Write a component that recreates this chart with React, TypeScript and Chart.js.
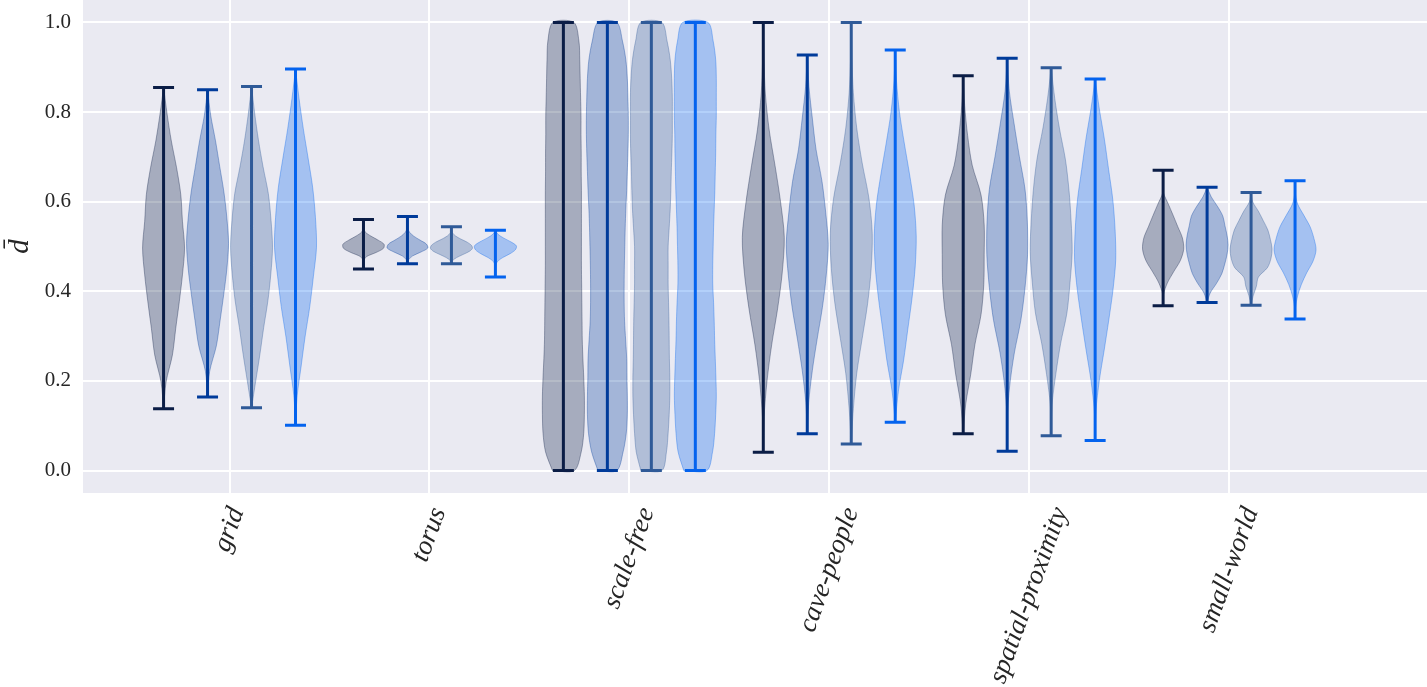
import React, { useEffect, useRef } from 'react';
import { Chart, registerables } from 'chart.js';

Chart.register(...registerables);

// ---------- data ----------
const categories = ['grid', 'torus', 'scale-free', 'cave-people', 'spatial-proximity', 'small-world'];
const seriesColors = ['#0b1d46', '#003b9a', '#2f5a98', '#0463ee'];
const yTickValues = [0, 0.2, 0.4, 0.6, 0.8, 1.0];

// extrema per category (series 1..4)
const minS1 = [0.138, 0.450, 0.0, 0.041, 0.082, 0.368];
const maxS1 = [0.855, 0.560, 1.0, 1.0, 0.881, 0.670];
const minS2 = [0.164, 0.4615, 0.0, 0.082, 0.043, 0.375];
const maxS2 = [0.850, 0.567, 1.0, 0.9275, 0.920, 0.632];
const minS3 = [0.140, 0.4615, 0.0, 0.0595, 0.078, 0.369];
const maxS3 = [0.857, 0.544, 1.0, 1.0, 0.899, 0.6205];
const minS4 = [0.101, 0.432, 0.0, 0.108, 0.067, 0.338];
const maxS4 = [0.896, 0.536, 1.0, 0.9387, 0.874, 0.6466];

// relative violin widths, sampled evenly from min (first) to max (last)
const densS1 = [
  [0, 0.12, 0.42, 0.58, 0.75, 0.9, 1, 0.9, 0.82, 0.62, 0.37, 0.17, 0],
  [0, 0, 0.01, 0.15, 0.6, 0.95, 0.98, 0.7, 0.35, 0.08, 0.01, 0, 0],
  [0.52, 0.85, 0.97, 1, 1, 0.97, 0.93, 0.9, 0.89, 0.88, 0.87, 0.86, 0.86, 0.86, 0.86, 0.86, 0.85, 0.85, 0.84, 0.84, 0.82, 0.8, 0.78, 0.74, 0.5],
  [0, 0.04, 0.18, 0.4, 0.68, 0.9, 1, 0.82, 0.56, 0.28, 0.1, 0.03, 0],
  [0, 0.12, 0.36, 0.56, 0.85, 0.98, 1, 1, 0.85, 0.43, 0.21, 0.07, 0],
  [0, 0.02, 0.2, 0.5, 0.82, 0.98, 0.92, 0.7, 0.48, 0.25, 0.02, 0, 0],
];
const densS2 = [
  [0, 0.1, 0.42, 0.6, 0.77, 0.92, 1, 0.92, 0.78, 0.58, 0.38, 0.15, 0],
  [0, 0.05, 0.25, 0.65, 0.97, 0.9, 0.6, 0.3, 0.1, 0.02, 0, 0, 0],
  [0.45, 0.75, 0.9, 0.95, 0.95, 0.93, 0.92, 0.87, 0.82, 0.8, 0.8, 0.81, 0.83, 0.85, 0.88, 0.92, 0.95, 0.98, 1, 1, 0.98, 0.95, 0.88, 0.72, 0.45],
  [0, 0.07, 0.24, 0.47, 0.72, 0.9, 1, 0.88, 0.7, 0.42, 0.24, 0.08, 0],
  [0, 0, 0.12, 0.34, 0.65, 0.85, 0.97, 0.96, 0.85, 0.58, 0.33, 0.1, 0],
  [0, 0.15, 0.45, 0.7, 0.84, 0.95, 1, 0.95, 0.85, 0.75, 0.5, 0.2, 0],
];
const densS3 = [
  [0, 0.2, 0.4, 0.58, 0.78, 0.92, 1, 0.93, 0.8, 0.55, 0.33, 0.15, 0],
  [0, 0.05, 0.25, 0.55, 0.85, 1, 0.95, 0.75, 0.45, 0.2, 0.05, 0, 0],
  [0.5, 0.72, 0.8, 0.85, 0.88, 0.88, 0.86, 0.85, 0.84, 0.82, 0.8, 0.8, 0.8, 0.85, 0.9, 0.93, 0.95, 0.98, 1, 1, 1, 0.97, 0.9, 0.75, 0.5],
  [0, 0.1, 0.26, 0.52, 0.78, 0.95, 1, 0.84, 0.52, 0.26, 0.1, 0.03, 0],
  [0, 0.04, 0.22, 0.45, 0.75, 0.9, 1, 0.95, 0.85, 0.68, 0.4, 0.17, 0],
  [0, 0.1, 0.25, 0.35, 0.78, 0.95, 1, 0.92, 0.8, 0.58, 0.35, 0.08, 0],
];
const densS4 = [
  [0, 0.08, 0.27, 0.46, 0.68, 0.85, 1, 0.95, 0.82, 0.6, 0.37, 0.17, 0],
  [0, 0, 0, 0.02, 0.1, 0.35, 0.7, 0.95, 1, 0.75, 0.4, 0.12, 0],
  [0.55, 0.82, 0.92, 0.97, 1, 0.98, 0.95, 0.92, 0.9, 0.87, 0.83, 0.83, 0.85, 0.87, 0.9, 0.93, 0.95, 0.97, 0.98, 1, 1, 1, 0.97, 0.85, 0.6],
  [0, 0.15, 0.4, 0.6, 0.8, 0.95, 1, 0.9, 0.68, 0.43, 0.2, 0.06, 0],
  [0, 0.04, 0.2, 0.43, 0.65, 0.85, 0.98, 0.95, 0.84, 0.64, 0.44, 0.2, 0],
  [0, 0.02, 0.12, 0.3, 0.55, 0.85, 1, 0.9, 0.72, 0.42, 0.12, 0.01, 0],
];

// ---------- layout constants ----------
const X_MIN = -0.733;
const X_MAX = 5.99;
const Y_MIN = -0.05;
const Y_MAX = 1.05;
const SERIES_OFFSETS = [-0.33, -0.11, 0.11, 0.33];
const HALF_WIDTH = 0.105;
const CAP_HALF = 0.0525;
const TEXT_COLOR = '#262626';
const SERIF = '"Liberation Serif", "Times New Roman", serif';

function rgba(hex: string, a: number) {
  const n = parseInt(hex.slice(1), 16);
  return `rgba(${(n >> 16) & 255},${(n >> 8) & 255},${n & 255},${a})`;
}

function buildDatasets() {
  const mins = [minS1, minS2, minS3, minS4];
  const maxs = [maxS1, maxS2, maxS3, maxS4];
  const dens = [densS1, densS2, densS3, densS4];
  const datasets: any[] = [];
  for (let s = 0; s < 4; s++) {
    const color = seriesColors[s];
    const lineData: any[] = [];
    for (let c = 0; c < categories.length; c++) {
      const lo = mins[s][c];
      const hi = maxs[s][c];
      const d = dens[s][c];
      const n = d.length;
      const cx = c + SERIES_OFFSETS[s];
      const pts: any[] = [];
      for (let i = 0; i < n; i++) {
        pts.push({ x: cx - d[i] * HALF_WIDTH, y: lo + ((hi - lo) * i) / (n - 1) });
      }
      for (let i = n - 1; i >= 0; i--) {
        pts.push({ x: cx + d[i] * HALF_WIDTH, y: lo + ((hi - lo) * i) / (n - 1) });
      }
      pts.push({ x: pts[0].x, y: pts[0].y });
      datasets.push({
        type: 'line',
        data: pts,
        borderColor: rgba(color, 0.35),
        borderWidth: 1,
        backgroundColor: rgba(color, 0.3),
        fill: 'shape',
        pointRadius: 0,
        tension: 0.3,
        order: 2,
      });
      lineData.push(
        { x: cx - CAP_HALF, y: hi }, { x: cx + CAP_HALF, y: hi }, { x: cx, y: null },
        { x: cx, y: hi }, { x: cx, y: lo }, { x: cx, y: null },
        { x: cx - CAP_HALF, y: lo }, { x: cx + CAP_HALF, y: lo }, { x: cx, y: null },
      );
    }
    datasets.push({
      type: 'line',
      data: lineData,
      borderColor: color,
      borderWidth: 3,
      fill: false,
      pointRadius: 0,
      tension: 0,
      spanGaps: false,
      order: 1,
    });
  }
  return datasets;
}

const bgPlugin = {
  id: 'bgPlugin',
  beforeDraw(chart: any) {
    const { ctx, chartArea } = chart;
    ctx.save();
    ctx.fillStyle = '#eaeaf2';
    ctx.fillRect(chartArea.left, chartArea.top, chartArea.right - chartArea.left, chartArea.bottom - chartArea.top);
    ctx.restore();
  },
};

const labelPlugin = {
  id: 'labelPlugin',
  afterDraw(chart: any) {
    const { ctx, chartArea } = chart;
    const xs = chart.scales.x;
    const th = (70 * Math.PI) / 180;
    ctx.save();
    ctx.fillStyle = TEXT_COLOR;
    ctx.font = `italic 27px ${SERIF}`;
    const h = 21;
    categories.forEach((lab, i) => {
      const L = ctx.measureText(lab).width;
      const bh = L * Math.sin(th) + h * Math.cos(th);
      const cx = xs.getPixelForValue(i);
      const cy = chartArea.bottom + 12 + bh / 2;
      ctx.save();
      ctx.translate(cx, cy);
      ctx.rotate(-th);
      ctx.textAlign = 'center';
      ctx.textBaseline = 'middle';
      ctx.fillText(lab, 0, 0);
      ctx.restore();
    });
    ctx.font = `italic 29px ${SERIF}`;
    ctx.translate(20, (chartArea.top + chartArea.bottom) / 2);
    ctx.rotate(-Math.PI / 2);
    ctx.textAlign = 'center';
    ctx.textBaseline = 'middle';
    ctx.fillText('d\u0304', 0, 0);
    ctx.restore();
  },
};

export default function App() {
  const canvasRef = useRef<HTMLCanvasElement | null>(null);

  useEffect(() => {
    if (!canvasRef.current) return;
    const chart = new Chart(canvasRef.current, {
      type: 'line',
      data: { datasets: buildDatasets() },
      options: {
        responsive: false,
        animation: false,
        events: [],
        layout: { padding: 0 },
        plugins: { legend: { display: false }, tooltip: { enabled: false } },
        scales: {
          x: {
            type: 'linear',
            min: X_MIN,
            max: X_MAX,
            grid: { color: '#ffffff', lineWidth: 2, drawTicks: false },
            border: { display: false },
            ticks: { display: false },
            afterBuildTicks: (s: any) => {
              s.ticks = categories.map((_, i) => ({ value: i }));
            },
            afterFit: (s: any) => {
              s.height = 194;
              s.paddingLeft = 0;
              s.paddingRight = 0;
            },
          },
          y: {
            type: 'linear',
            min: Y_MIN,
            max: Y_MAX,
            grid: { color: '#ffffff', lineWidth: 2, drawTicks: false },
            border: { display: false },
            ticks: {
              padding: 12,
              color: TEXT_COLOR,
              font: { family: SERIF, size: 21 },
              callback: (v: any) => Number(v).toFixed(1),
            },
            afterBuildTicks: (s: any) => {
              s.ticks = yTickValues.map((v) => ({ value: v }));
            },
            afterFit: (s: any) => {
              s.width = 83;
              s.paddingTop = 0;
              s.paddingBottom = 0;
            },
          },
        },
      } as any,
      plugins: [bgPlugin, labelPlugin],
    });
    return () => chart.destroy();
  }, []);

  return (
    <div style={{ position: 'fixed', left: 0, top: 0, width: 1427, height: 687, background: '#ffffff' }}>
      <canvas ref={canvasRef} width={1427} height={687} style={{ display: 'block' }} />
    </div>
  );
}
